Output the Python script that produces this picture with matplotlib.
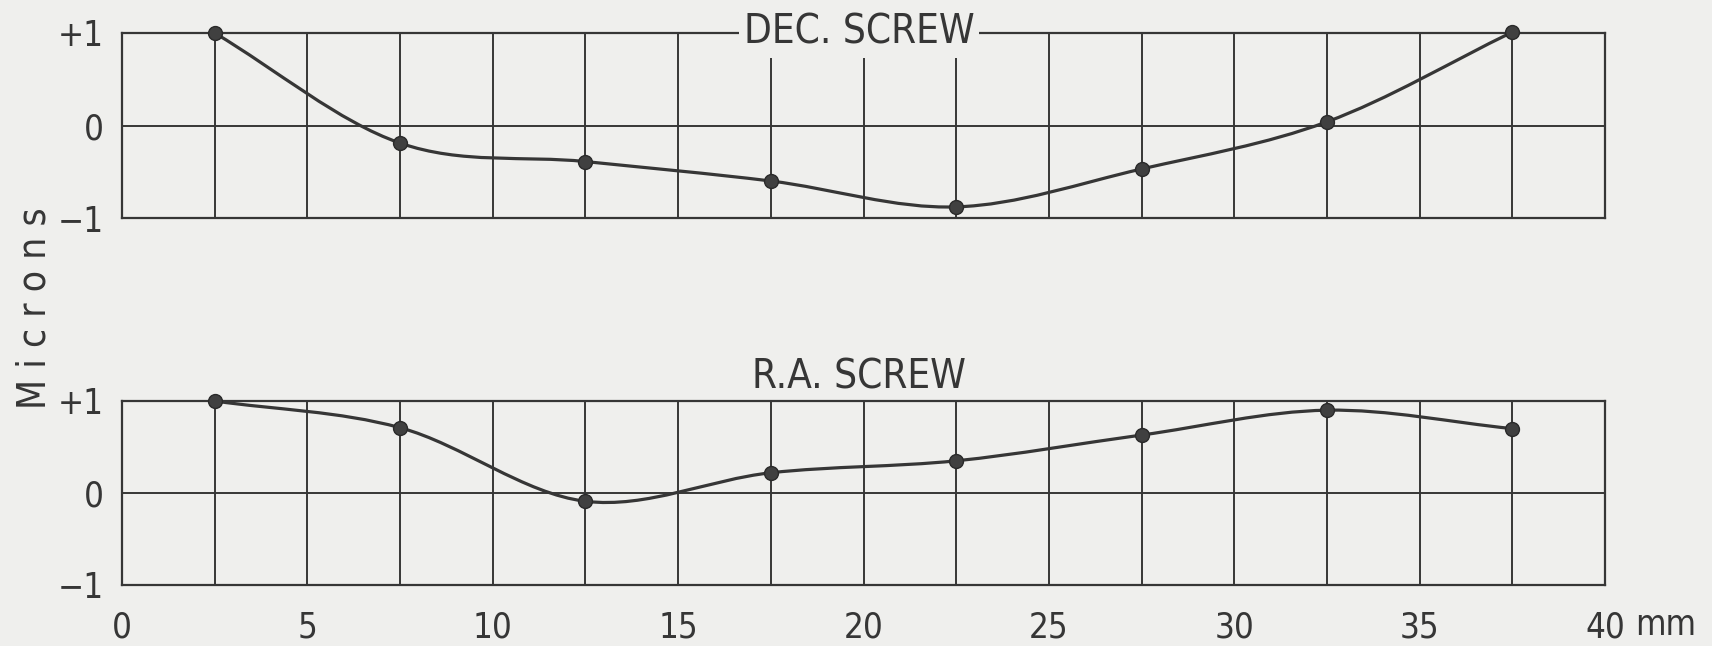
import numpy as np
import matplotlib
matplotlib.use('Agg')
import matplotlib.pyplot as plt
from matplotlib.path import Path
from matplotlib.patches import PathPatch

# screw error measured every 5 mm (micron)
x_mm = [2.5, 7.5, 12.5, 17.5, 22.5, 27.5, 32.5, 37.5]
dec_screw = [1.0, -0.19, -0.39, -0.60, -0.88, -0.47, 0.04, 1.01]
ra_screw = [1.0, 0.71, -0.09, 0.22, 0.35, 0.63, 0.90, 0.70]

x_ticks = [0, 5, 10, 15, 20, 25, 30, 35, 40]
x_ticklabels = ['0', '5', '10', '15', '20', '25', '30', '35', '40']
y_ticks = [-1, 0, 1]
y_ticklabels = ['\u22121', '0', '+1']

bg = '#efefed'
ink = '#363636'

plt.rcParams['font.family'] = ['DejaVu Sans']
plt.rcParams['font.stretch'] = 'condensed'


def smooth_path(xs, ys):
    # catmull-rom tangents -> cubic bezier segments
    xs = np.asarray(xs, float)
    ys = np.asarray(ys, float)
    n = len(xs)
    m = np.zeros(n)
    m[0] = (ys[1] - ys[0]) / (xs[1] - xs[0])
    m[-1] = (ys[-1] - ys[-2]) / (xs[-1] - xs[-2])
    m[1:-1] = (ys[2:] - ys[:-2]) / (xs[2:] - xs[:-2])
    verts = [(xs[0], ys[0])]
    codes = [Path.MOVETO]
    for i in range(n - 1):
        h = xs[i + 1] - xs[i]
        verts += [(xs[i] + h / 3, ys[i] + m[i] * h / 3),
                  (xs[i + 1] - h / 3, ys[i + 1] - m[i + 1] * h / 3),
                  (xs[i + 1], ys[i + 1])]
        codes += [Path.CURVE4] * 3
    return Path(verts, codes)


fig = plt.figure(figsize=(17.12, 6.46), dpi=100, facecolor=bg)
W, H = 1712, 646
ax1 = fig.add_axes([122 / W, 1 - 218 / H, 1483 / W, 185 / H])
ax2 = fig.add_axes([122 / W, 1 - 585 / H, 1483 / W, 184 / H])

for ax, vals in [(ax1, dec_screw), (ax2, ra_screw)]:
    ax.set_facecolor(bg)
    ax.set_xlim(0, 40)
    ax.set_ylim(-1, 1)
    ax.set_xticks(x_ticks)
    ax.set_xticklabels(x_ticklabels)
    ax.set_xticks(np.arange(2.5, 40, 5), minor=True)
    ax.set_yticks(y_ticks)
    ax.set_yticklabels(y_ticklabels)
    ax.tick_params(which='both', length=0, labelsize=25, colors=ink)
    ax.tick_params(axis='y', pad=13)
    ax.tick_params(axis='x', pad=18)
    ax.grid(which='both', color=ink, linewidth=1.4)
    for s in ax.spines.values():
        s.set_color(ink)
        s.set_linewidth(1.6)
    ax.add_patch(PathPatch(smooth_path(x_mm, vals), facecolor='none',
                           edgecolor=ink, linewidth=2.3, zorder=3))
    ax.plot(x_mm, vals, 'o', color='#404040', markeredgecolor='#2a2a2a',
            markersize=10, clip_on=False, zorder=4)

ax1.tick_params(axis='x', labelbottom=False)

ax1.text(0.497, 1.0, 'DEC. SCREW', transform=ax1.transAxes, ha='center',
         va='center', fontsize=29, color=ink, zorder=5,
         bbox=dict(boxstyle='square,pad=0.12', facecolor=bg, edgecolor='none'))
ax2.text(0.497, 1.07, 'R.A. SCREW', transform=ax2.transAxes, ha='center',
         va='baseline', fontsize=29, color=ink)

ax2.annotate('mm', xy=(1, 0), xycoords='axes fraction', xytext=(22, -36),
             textcoords='offset points', ha='left', va='baseline',
             fontsize=25, color=ink)

fig.text(35 / W, 1 - 308 / H, 'M i c r o n s', rotation=90, ha='center',
         va='center', fontsize=28, color=ink)

fig.savefig('out.png', dpi=100, facecolor=bg)
